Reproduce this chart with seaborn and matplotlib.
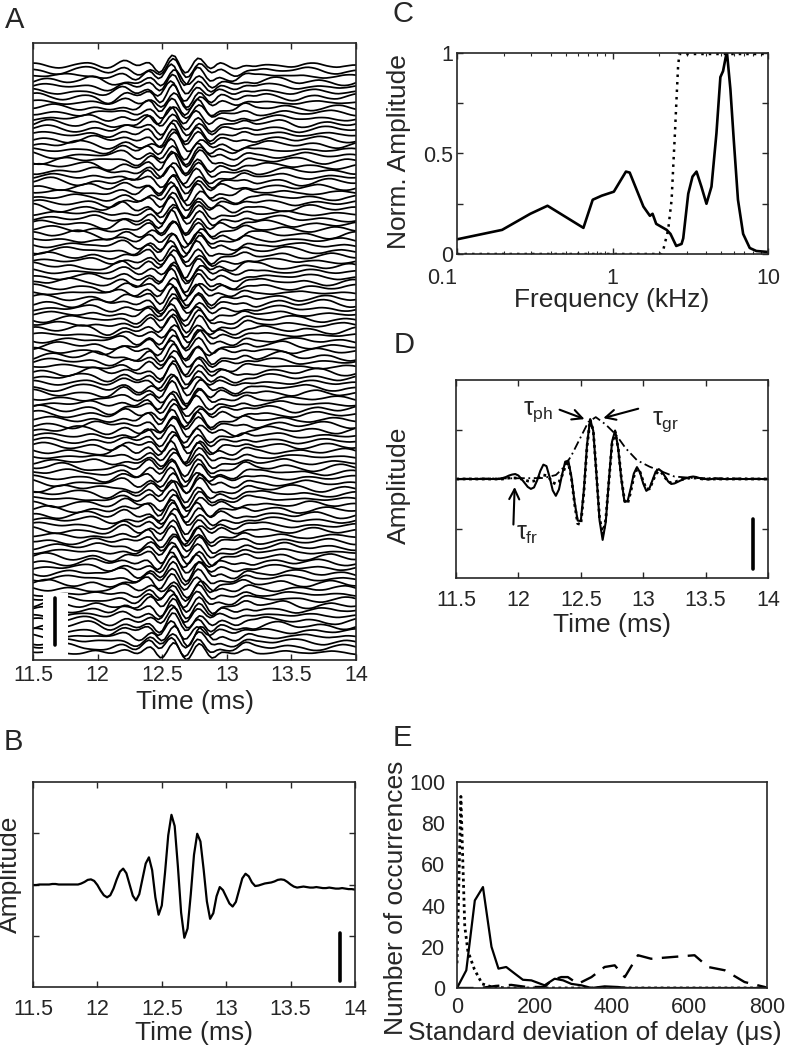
"""
Click waveforms, spectrum and delay statistics (panels A-E).
"""
import numpy as np
import pandas as pd
import matplotlib
matplotlib.use('Agg')
import matplotlib.pyplot as plt
import seaborn as sns
from matplotlib.patches import Rectangle

W, H = 787, 1050

# ---------------------------------------------------------------- data
# common sampling grid of the waveforms, 11.4 .. 14.1 ms every 25 us
time_ms = np.linspace(11.4, 14.1, 109)
time_ticks = [11.5, 12, 12.5, 13, 13.5, 14]

# B: averaged click (one row = 0.2 ms)
click_b = [
    0.00, 0.00, 0.00, -0.01, -0.01, -0.01, 0.00, 0.00,       # 11.4
    0.00, 0.00, 0.01, 0.01, 0.00, 0.00, 0.00, 0.00,          # 11.6
    0.00, 0.00, 0.00, 0.02, 0.05, 0.09, 0.10, 0.07,          # 11.8
    -0.01, -0.12, -0.21, -0.25, -0.21, -0.08, 0.10, 0.25,    # 12.0
    0.31, 0.22, 0.00, -0.22, -0.31, -0.19, 0.11, 0.41,       # 12.2
    0.53, 0.28, -0.25, -0.59, -0.41, 0.23, 0.96, 1.36,       # 12.4
    1.14, 0.35, -0.55, -1.04, -0.86, -0.19, 0.58, 0.99,      # 12.6
    0.84, 0.29, -0.33, -0.67, -0.56, -0.23, -0.05, -0.11,    # 12.8
    -0.24, -0.37, -0.43, -0.34, -0.11, 0.12, 0.21, 0.16,     # 13.0
    0.04, -0.03, -0.02, 0.00, 0.02, 0.03, 0.04, 0.06,        # 13.2
    0.09, 0.10, 0.09, 0.05, 0.00, -0.04, -0.06, -0.05,       # 13.4
    -0.04, -0.05, -0.06, -0.06, -0.05, -0.06, -0.07, -0.07,  # 13.6
    -0.06, -0.07, -0.08, -0.08, -0.07, -0.08, -0.09, -0.09,  # 13.8
    -0.10, -0.10, -0.10, -0.10, -0.10,                       # 14.0
]

# D: single click (solid) and its band-passed version (dotted)
click_d = [
    0.00, 0.00, 0.00, 0.00, 0.00, 0.00, 0.00, 0.00,
    0.00, 0.00, 0.00, 0.00, 0.00, 0.00, 0.00, 0.00,
    0.00, 0.00, 0.00, 0.02, 0.04, 0.07, 0.09, 0.10,
    0.07, 0.00, -0.08, -0.16, -0.20, -0.17, -0.03, 0.16,
    0.29, 0.26, 0.04, -0.23, -0.34, -0.21, 0.09, 0.35,
    0.37, 0.04, -0.46, -0.84, -0.85, -0.21, 0.70, 1.21,
    0.97, 0.10, -0.83, -1.23, -0.87, -0.03, 0.75, 0.98,
    0.61, -0.01, -0.46, -0.45, -0.19, 0.11, 0.24, 0.13,
    -0.09, -0.24, -0.19, -0.02, 0.15, 0.20, 0.15, 0.05,
    -0.05, -0.10, -0.09, -0.06, -0.03, 0.00, 0.02, 0.04,
    0.05, 0.04, 0.02, 0.00, 0.00, -0.01, 0.00, 0.01,
    0.00, 0.00, 0.00, 0.00, 0.00, 0.00, 0.00, 0.00,
    0.00, 0.00, 0.00, 0.00, 0.00, 0.00, 0.00, 0.00,
    0.00, 0.00, 0.00, 0.00, 0.00,
]
click_d_filt = [
    0.00, 0.00, 0.00, 0.00, 0.00, 0.00, 0.00, 0.00,
    0.00, 0.00, 0.00, 0.00, 0.00, 0.00, 0.00, 0.00,
    0.00, 0.00, 0.00, 0.00, 0.01, 0.02, 0.02, 0.02,
    0.01, 0.00, -0.02, -0.04, -0.05, -0.04, 0.00, 0.05,
    0.08, 0.07, 0.01, -0.07, -0.10, -0.06, 0.07, 0.25,
    0.33, 0.02, -0.50, -0.90, -0.92, -0.26, 0.66, 1.19,
    0.98, 0.12, -0.78, -1.12, -0.82, -0.05, 0.70, 0.95,
    0.62, 0.02, -0.43, -0.50, -0.26, 0.05, 0.20, 0.14,
    -0.05, -0.20, -0.20, -0.06, 0.10, 0.16, 0.12, 0.03,
    -0.05, -0.08, -0.07, -0.04, -0.02, 0.00, 0.01, 0.02,
    0.02, 0.02, 0.01, 0.00, 0.00, 0.00, 0.00, 0.00,
    0.00, 0.00, 0.00, 0.00, 0.00, 0.00, 0.00, 0.00,
    0.00, 0.00, 0.00, 0.00, 0.00, 0.00, 0.00, 0.00,
    0.00, 0.00, 0.00, 0.00, 0.00,
]
env_t = [11.4, 12.2, 12.3, 12.35, 12.42, 12.5, 12.56, 12.62, 12.7, 12.78,
         12.86, 12.95, 13.05, 13.15, 13.25, 13.4, 14.1]
env_a = [0.0, 0.02, 0.08, 0.2, 0.45, 0.85, 1.15, 1.25, 1.1, 0.9,
         0.62, 0.38, 0.25, 0.15, 0.05, 0.02, 0.0]

# A: 112 single clicks, built from the mean click plus slow background ripple
trace_shift_us = [
    0, 8, -5, 12, 3, -10, 6, 15, -2, 9, -14, 4, 11, -6, 2, 18,
    -8, 5, 13, -3, 7, -12, 10, 1, -7, 16, 4, -9, 8, 14, -4, 6,
    20, -1, 9, -11, 3, 12, -6, 17, 5, -3, 10, -15, 7, 2, 13, -8,
    4, 11, -5, 19, 0, 8, -10, 6, 14, -2, 9, 3, -7, 15, 1, 10,
    -12, 7, 16, -4, 5, 12, -9, 2, 18, -6, 8, 13, -1, 4, -11, 9,
    15, -3, 6, 11, -8, 3, 17, 0, 10, -5, 7, 14, -2, 12, -13, 5,
    9, 1, -6, 16, 4, -10, 11, 7, -4, 13, 2, -8, 19, 6, -3, 10,
]
trace_gain = [
    1.45, 1.30, 1.55, 1.20, 1.40, 1.35, 1.60, 1.25, 1.50, 1.15, 1.45, 1.35, 1.30, 1.55, 1.40, 1.20,
    1.50, 1.35, 1.25, 1.60, 1.30, 1.45, 1.20, 1.40, 1.55, 1.30, 1.35, 1.50, 1.25, 1.45, 1.60, 1.30,
    1.40, 1.20, 1.50, 1.35, 1.45, 1.25, 1.55, 1.30, 1.40, 1.60, 1.20, 1.35, 1.50, 1.45, 1.25, 1.40,
    1.30, 1.55, 1.35, 1.20, 1.50, 1.40, 1.30, 1.60, 1.25, 1.45, 1.35, 1.50, 1.20, 1.40, 1.55, 1.30,
    1.45, 1.25, 1.40, 1.55, 1.30, 1.20, 1.50, 1.35, 1.45, 1.60, 1.30, 1.25, 1.40, 1.50, 1.35, 1.45,
    1.20, 1.50, 1.35, 1.30, 1.55, 1.45, 1.25, 1.40, 1.35, 1.60, 1.20, 1.45, 1.30, 1.50, 1.40, 1.25,
    1.55, 1.35, 1.45, 1.20, 1.40, 1.30, 1.50, 1.60, 1.25, 1.35, 1.45, 1.30, 1.55, 1.20, 1.40, 1.50,
]
ripple_start = [
    0, 23, 47, 12, 35, 58, 7, 29, 51, 16, 40, 3, 26, 54, 19, 44,
    9, 32, 56, 14, 38, 1, 25, 49, 21, 45, 6, 30, 59, 11, 36, 52,
    17, 42, 4, 28, 53, 13, 39, 60, 22, 46, 8, 33, 55, 18, 41, 2,
    27, 50, 15, 37, 5, 31, 57, 10, 34, 48, 20, 43, 0, 24, 58, 14,
    39, 6, 29, 52, 18, 44, 3, 26, 55, 11, 35, 60, 21, 47, 8, 32,
    57, 16, 40, 1, 25, 50, 13, 37, 59, 23, 46, 9, 30, 54, 19, 42,
    5, 28, 53, 12, 36, 48, 2, 27, 51, 15, 41, 7, 33, 56, 20, 45,
]
ripple_gain = [
    1.3, -1.6, 1.0, 1.8, -1.2, 1.5, -1.9, 0.9, 1.6, -1.3, 1.2, -1.8, 1.5, 1.0, -1.5, 1.9,
    -1.0, 1.6, -1.8, 1.3, 1.5, -1.2, 1.8, -1.6, 0.9, 1.5, -1.3, 1.9, -1.0, 1.2, -1.6, 1.5,
    1.8, -1.3, 1.2, -1.5, 1.6, 1.0, -1.9, 1.3, -1.2, 1.8, -1.5, 0.9, 1.6, -1.8, 1.3, -1.0,
    -1.5, 1.2, 1.8, -0.9, 1.3, -1.6, 1.5, 1.9, -1.3, 1.0, -1.8, 1.6, 1.2, -1.5, 1.8, -1.2,
    1.0, -1.8, 1.5, 1.3, -1.6, 1.9, -1.0, 1.2, 1.6, -1.5, 0.9, -1.3, 1.8, 1.5, -1.2, 1.6,
    -1.9, 1.3, -1.0, 1.6, 1.5, -1.8, 1.2, -1.3, 1.8, 1.0, -1.6, 1.5, -0.9, 1.9, -1.5, 1.3,
    1.6, -1.2, 1.8, -1.5, 1.0, 1.5, -1.8, 1.3, -1.0, 1.6, 1.9, -1.3, 1.2, -1.6, 1.5, -0.9,
]
ripple_bank = [
    0.00, 0.10, 0.20, 0.28, 0.32, 0.30, 0.22, 0.10, -0.04, -0.18, -0.30, -0.38, -0.40, -0.36, -0.27, -0.15,
    -0.02, 0.10, 0.20, 0.26, 0.28, 0.25, 0.18, 0.08, -0.02, -0.10, -0.14, -0.13, -0.08, 0.00, 0.10, 0.22,
    0.34, 0.42, 0.45, 0.42, 0.33, 0.20, 0.05, -0.10, -0.24, -0.34, -0.40, -0.41, -0.36, -0.28, -0.18, -0.08,
    0.00, 0.05, 0.07, 0.05, 0.00, -0.06, -0.10, -0.10, -0.05, 0.04, 0.15, 0.26, 0.35, 0.40, 0.40, 0.35,
    0.26, 0.14, 0.01, -0.12, -0.22, -0.28, -0.30, -0.27, -0.20, -0.12, -0.04, 0.02, 0.05, 0.04, 0.00, -0.06,
    -0.14, -0.22, -0.28, -0.30, -0.26, -0.18, -0.06, 0.08, 0.21, 0.32, 0.38, 0.38, 0.32, 0.22, 0.10, -0.02,
    -0.12, -0.18, -0.20, -0.17, -0.10, -0.02, 0.06, 0.12, 0.14, 0.12, 0.06, -0.03, -0.14, -0.25, -0.34, -0.40,
    -0.42, -0.38, -0.30, -0.18, -0.04, 0.10, 0.22, 0.31, 0.35, 0.34, 0.28, 0.19, 0.09, 0.00, -0.07, -0.11,
    -0.12, -0.09, -0.04, 0.03, 0.10, 0.15, 0.17, 0.15, 0.09, 0.00, -0.10, -0.20, -0.28, -0.32, -0.31, -0.25,
    -0.15, -0.03, 0.09, 0.20, 0.29, 0.34, 0.34, 0.29, 0.20, 0.09, -0.02, -0.11, -0.17, -0.19, -0.16, -0.10,
    -0.03, 0.05, 0.12, 0.17, 0.19, 0.17, 0.12, 0.05, 0.00,
]

# C: amplitude spectrum (solid) and filter (dotted)
spec_khz = [0.1, 0.195, 0.296, 0.382, 0.65, 0.746, 0.852, 1.02, 1.22, 1.29,
            1.58, 1.74, 1.81, 1.91, 2.23, 2.36, 2.57, 2.78, 2.85, 3.07,
            3.27, 3.47, 3.73, 4.02, 4.33, 4.66, 4.94, 5.14, 5.35, 5.45,
            5.73, 6.02, 6.41, 6.92, 7.63, 8.41, 10.0]
spec_amp = [0.073, 0.12, 0.20, 0.24, 0.13, 0.27, 0.29, 0.31, 0.41, 0.405,
            0.236, 0.19, 0.20, 0.15, 0.12, 0.10, 0.04, 0.05, 0.078, 0.30,
            0.385, 0.41, 0.335, 0.25, 0.335, 0.60, 0.88, 0.91, 0.98, 1.0,
            0.82, 0.57, 0.27, 0.10, 0.03, 0.015, 0.01]
filt_khz = [0.1, 2.05, 2.12, 2.28, 2.40, 2.46, 2.52, 2.58, 2.64, 2.69, 10.0]
filt_amp = [0.0, 0.0, 0.02, 0.12, 0.27, 0.44, 0.60, 0.77, 0.93, 0.995, 0.995]

# E: histograms of the delay standard deviation
sd_solid_us = [0, 24, 46, 67, 89, 107, 127, 149, 170, 192, 226, 252, 274, 295,
               321, 347, 381, 415, 441, 500, 600, 700, 800]
n_solid = [0, 8.6, 42.5, 49, 20, 9.4, 10.2, 7, 4, 3.7, 1.3, 4.5, 3.7, 2,
           1.3, 0, 0.8, 0.5, 0, 0, 0, 0, 0]
sd_dashed_us = [0, 60, 100, 140, 180, 226, 244, 269, 286, 312, 347, 381, 407,
                433, 467, 501, 553, 613, 648, 691, 742, 794, 800]
n_dashed = [0, 0, 1, 1.5, 0.5, 0.5, 3.7, 5.3, 5.3, 2, 5.3, 10.2, 11,
            5.3, 15.9, 14.2, 15, 15.9, 10.2, 8.6, 2.9, 0.5, 0]
sd_dotted_us = [0, 10, 20, 28, 45, 65, 90, 130, 800]
n_dotted = [12, 93, 30, 18, 9, 2, 0.5, 0, 0]

# ---------------------------------------------------------------- style
sns.set_style('ticks')
plt.rcParams['font.family'] = ['Liberation Sans', 'DejaVu Sans']
plt.rcParams.update({
    'axes.linewidth': 1.2,
    'xtick.direction': 'in',
    'ytick.direction': 'in',
    'xtick.labelsize': 15.5,
    'ytick.labelsize': 15.5,
    'mathtext.fontset': 'custom',
    'mathtext.rm': 'Liberation Sans',
    'mathtext.it': 'Liberation Sans',
})
TICK = 15.5
LAB = 19
LET = 21

fig = plt.figure(figsize=(W / 100, H / 100), dpi=100)


def px_axes(left, top, right, bottom):
    return fig.add_axes([left / W, 1 - bottom / H, (right - left) / W, (bottom - top) / H])


def px_text(x, y, s, size=LAB, **kw):
    fig.text(x / W, 1 - y / H, s, ha='center', va='center', fontsize=size, **kw)


def time_axis(ax, pad):
    ax.set_xlim(11.5, 14)
    ax.set_xticks(time_ticks)
    ax.set_xticklabels([f'{t:g}' for t in time_ticks])
    ax.tick_params(axis='x', top=True, length=4, width=1, pad=pad)
    ax.set_xlabel('')
    ax.set_ylabel('')


# ---------------------------------------------------------------- A
n_traces = len(trace_shift_us)
bank = np.array(ripple_bank)
wave_b = np.array(click_b)
frames = []
for k in range(n_traces):
    s = ripple_start[k]
    frames.append(pd.DataFrame({
        'trace': k,
        't': time_ms + trace_shift_us[k] / 1000.0,
        'y': (n_traces - 1 - k) + trace_gain[k] * wave_b
             + ripple_gain[k] * bank[s:s + len(time_ms)],
    }))
df_a = pd.concat(frames, ignore_index=True)

ax_a = px_axes(33, 43, 356, 660)
sns.lineplot(data=df_a, x='t', y='y', units='trace', estimator=None,
             color='black', lw=1.25, legend=False, ax=ax_a)
ax_a.set_ylim(-1.5, n_traces + 3.2)
ax_a.set_yticks([])
time_axis(ax_a, 3.5)
ax_a.add_patch(Rectangle((11.577, -1.3), 0.194, 12.4, facecolor='white',
                         edgecolor='none', zorder=3))
ax_a.plot([11.67, 11.67], [1.3, 10.3], color='black', lw=2.6, zorder=4)
px_text(195, 702, 'Time (ms)')
px_text(15, 20, 'A', size=LET)

# ---------------------------------------------------------------- B
df_b = pd.DataFrame({'t': time_ms, 'amp': click_b})
ax_b = px_axes(33, 782, 355, 987)
sns.lineplot(data=df_b, x='t', y='amp', color='black', lw=1.6, ax=ax_b)
ax_b.set_ylim(-2, 2)
ax_b.set_yticks([-1, 0, 1])
ax_b.set_yticklabels([])
ax_b.tick_params(axis='y', right=True, length=4, width=1)
time_axis(ax_b, 8.5)
ax_b.plot([13.88, 13.88], [-0.94, -1.89], color='black', lw=2.6)
px_text(194, 1033, 'Time (ms)')
px_text(10, 874, 'Amplitude', rotation=90)
px_text(13, 742, 'B', size=LET)

# ---------------------------------------------------------------- C
df_spec = pd.DataFrame({'f': spec_khz, 'a': spec_amp})
df_filt = pd.DataFrame({'f': filt_khz, 'a': filt_amp})
ax_c = px_axes(457, 53, 768, 254)
ax_c.set_xscale('log')
sns.lineplot(data=df_filt, x='f', y='a', color='black', lw=1.8,
             linestyle=(0, (1, 2)), ax=ax_c)
sns.lineplot(data=df_spec, x='f', y='a', color='black', lw=1.9, ax=ax_c)
ax_c.set_xlim(0.1, 10)
ax_c.set_ylim(0, 1)
ax_c.set_xticks([0.1, 1, 10])
ax_c.set_xticklabels(['0.1', '1', '10'])
ax_c.set_yticks([0, 0.25, 0.5, 0.75, 1])
ax_c.set_yticklabels(['0', '', '0.5', '', '1'])
ax_c.tick_params(which='major', top=True, right=True, length=4, width=1)
ax_c.tick_params(axis='x', pad=10)
ax_c.tick_params(axis='y', pad=3)
ax_c.tick_params(which='minor', top=True, direction='in', length=2, width=0.8)
ax_c.get_xticklabels()[0].set_ha('right')
ax_c.set_xlabel('')
ax_c.set_ylabel('')
px_text(612, 300, 'Frequency (kHz)')
px_text(399, 152, 'Norm. Amplitude', rotation=90)
px_text(403, 14, 'C', size=LET)

# ---------------------------------------------------------------- D
df_d = pd.DataFrame({'t': time_ms, 'raw': click_d, 'filt': click_d_filt})
df_env = pd.DataFrame({'t': env_t, 'a': env_a})
ax_d = px_axes(456, 380, 768, 578)
sns.lineplot(data=df_env, x='t', y='a', color='black', lw=1.3,
             linestyle=(0, (5, 2, 1, 2)), ax=ax_d)
sns.lineplot(data=df_d, x='t', y='filt', color='black', lw=2.0,
             linestyle=(0, (1, 1.3)), ax=ax_d)
sns.lineplot(data=df_d, x='t', y='raw', color='black', lw=1.5, ax=ax_d)
ax_d.set_ylim(-2, 2)
ax_d.set_yticks([-1, 0, 1])
ax_d.set_yticklabels([])
ax_d.tick_params(axis='y', right=True, length=4, width=1)
time_axis(ax_d, 8.5)
ax_d.plot([13.88, 13.88], [-0.81, -1.82], color='black', lw=2.6)
arrow = dict(arrowstyle='->', lw=1.5, color='black', mutation_scale=18,
             shrinkA=0, shrinkB=0)
ax_d.annotate('', xy=(12.53, 1.21), xytext=(12.33, 1.40), arrowprops=arrow)
ax_d.annotate('', xy=(12.68, 1.23), xytext=(12.96, 1.42), arrowprops=arrow)
ax_d.annotate('', xy=(11.97, -0.16), xytext=(11.96, -0.92), arrowprops=arrow)
ax_d.text(12.16, 1.37, r'$\tau_{\mathrm{ph}}$', fontsize=18, ha='center', va='center')
ax_d.text(13.18, 1.15, r'$\tau_{\mathrm{gr}}$', fontsize=18, ha='center', va='center')
ax_d.text(12.07, -1.12, r'$\tau_{\mathrm{fr}}$', fontsize=18, ha='center', va='center')
px_text(612, 625, 'Time (ms)')
px_text(399, 485, 'Amplitude', rotation=90)
px_text(404, 345, 'D', size=LET)

# ---------------------------------------------------------------- E
ax_e = px_axes(457, 782, 767, 988)
sns.lineplot(x=sd_dotted_us, y=n_dotted, color='black', lw=2.0,
             linestyle=(0, (1, 1.3)), ax=ax_e)
sns.lineplot(x=sd_dashed_us, y=n_dashed, color='black', lw=1.7,
             linestyle=(0, (7, 4)), ax=ax_e)
sns.lineplot(x=sd_solid_us, y=n_solid, color='black', lw=1.6, ax=ax_e)
ax_e.set_xlim(0, 800)
ax_e.set_ylim(0, 100)
ax_e.set_xticks([0, 200, 400, 600, 800])
ax_e.set_yticks([0, 20, 40, 60, 80, 100])
ax_e.tick_params(length=0, labelsize=TICK)
ax_e.tick_params(axis='x', pad=6.5)
ax_e.tick_params(axis='y', pad=8.5)
px_text(595, 1033, 'Standard deviation of delay (\u03bcs)')
px_text(396, 898, 'Number of occurrences', rotation=90)
px_text(402, 738, 'E', size=LET)

fig.savefig('out.png', dpi=100)
plt.close(fig)
